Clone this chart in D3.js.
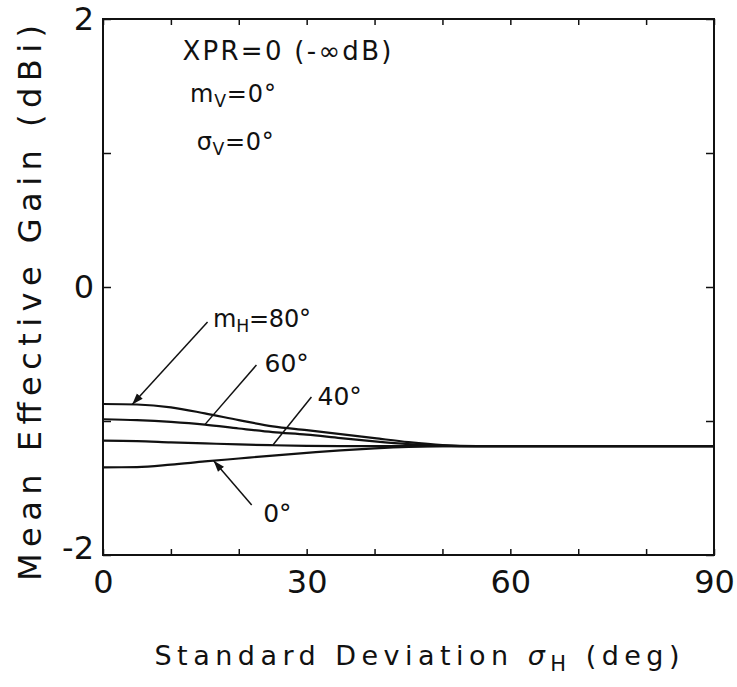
<!DOCTYPE html>
<html>
<head>
<meta charset="utf-8">
<script src="https://cdn.jsdelivr.net/npm/d3@7"></script>
<style>
  body { margin: 0; background: #fff; }
  text { font-family: "DejaVu Sans", sans-serif; fill: #111; }
</style>
</head>
<body>
<div id="container"></div>
<script>
/* DATA */
const sigmaH = [0, 5, 10, 15, 20, 25, 30, 35, 40, 45, 50, 55, 90];
const gainM80 = [-0.873, -0.877, -0.898, -0.943, -0.993, -1.040, -1.068, -1.098, -1.128, -1.158, -1.180, -1.188, -1.188];
const gainM60 = [-0.987, -0.994, -1.007, -1.027, -1.056, -1.083, -1.102, -1.128, -1.152, -1.172, -1.184, -1.188, -1.188];
const gainM40 = [-1.147, -1.150, -1.159, -1.167, -1.175, -1.181, -1.185, -1.187, -1.188, -1.188, -1.188, -1.188, -1.188];
const gainM0  = [-1.346, -1.344, -1.326, -1.302, -1.280, -1.258, -1.238, -1.219, -1.204, -1.193, -1.188, -1.188, -1.188];

const xTickValues = [0, 10, 20, 30, 40, 50, 60, 70, 80, 90];
const xTickLabels = [0, 30, 60, 90];
const yTickValues = [2, 1, 0, -1, -2];
const yTickLabels = [2, 0, -2];

/* CONSTANTS */
const width = 737,
      height = 687,
      margin = {left: 103, top: 19, right: 23, bottom: 132};
const innerW = width - margin.left - margin.right,
      innerH = height - margin.top - margin.bottom;

const svg = d3.select('#container')
              .append("svg")
              .attr("width", width)
              .attr("height", height);

const g = svg.append("g")
             .attr("transform", "translate(" + margin.left + "," + margin.top + ")");

/* SCALES */
const xScale = d3.scaleLinear().domain([0, 90]).range([0, innerW]);
const yScale = d3.scaleLinear().domain([-2, 2]).range([innerH, 0]);

/* AXES (ticks point inward) */
const fmtX = d => xTickLabels.includes(d) ? String(d) : "";
const fmtY = d => yTickLabels.includes(d) ? String(d) : "";

const bottomAxis = g.append("g")
  .attr("transform", "translate(0," + innerH + ")")
  .call(d3.axisBottom(xScale).tickValues(xTickValues).tickSizeInner(-6).tickSizeOuter(0).tickPadding(15).tickFormat(fmtX));
const topAxis = g.append("g")
  .call(d3.axisTop(xScale).tickValues(xTickValues).tickSizeInner(-6).tickSizeOuter(0).tickFormat(""));
const leftAxis = g.append("g")
  .call(d3.axisLeft(yScale).tickValues(yTickValues).tickSizeInner(-8).tickSizeOuter(0).tickPadding(9).tickFormat(fmtY));
const rightAxis = g.append("g")
  .attr("transform", "translate(" + innerW + ",0)")
  .call(d3.axisRight(yScale).tickValues(yTickValues).tickSizeInner(-8).tickSizeOuter(0).tickFormat(""));

[bottomAxis, topAxis, leftAxis, rightAxis].forEach(a => {
  a.select(".domain").remove();
  a.selectAll("line").attr("stroke", "#111").attr("stroke-width", 1.5);
  a.selectAll("text").style("font-family", "'DejaVu Sans', sans-serif")
   .style("font-size", "32px").attr("fill", "#111");
});
// the -2 label sits a little higher in the original
leftAxis.selectAll(".tick").filter(d => d === -2).select("text").attr("dy", "0.12em");

g.append("rect")
  .attr("width", innerW).attr("height", innerH)
  .attr("fill", "none").attr("stroke", "#111").attr("stroke-width", 2);

/* CURVES */
const series = [gainM80, gainM60, gainM40, gainM0];
const line = d3.line()
  .x((d, i) => xScale(sigmaH[i]))
  .y(d => yScale(d))
  .curve(d3.curveMonotoneX);

g.append("g").selectAll("path").data(series).enter().append("path")
  .attr("d", line)
  .attr("fill", "none")
  .attr("stroke", "#111")
  .attr("stroke-width", 2.2);

/* ANNOTATIONS */
function valueAt(s, sig) {
  const i = Math.min(d3.bisectRight(sigmaH, sig), sigmaH.length - 1);
  const t = (sig - sigmaH[i - 1]) / (sigmaH[i] - sigmaH[i - 1]);
  return s[i - 1] + t * (s[i] - s[i - 1]);
}

svg.append("defs").append("marker")
  .attr("id", "arrow")
  .attr("markerUnits", "userSpaceOnUse")
  .attr("viewBox", "0 -4 10 8")
  .attr("refX", 10).attr("refY", 0)
  .attr("markerWidth", 12).attr("markerHeight", 9)
  .attr("orient", "auto")
  .append("path").attr("d", "M0,-3.5L10,0L0,3.5Z").attr("fill", "#111");

const leaders = [
  {s: gainM80, at: 4.3,  from: [15.4, -0.261], arrow: true},
  {s: gainM60, at: 15.0, from: [22.6, -0.582], arrow: false},
  {s: gainM40, at: 25.0, from: [30.7, -0.821], arrow: false},
  {s: gainM0,  at: 16.3, from: [21.9, -1.627], arrow: true}
];
leaders.forEach(l => {
  g.append("line")
    .attr("x1", xScale(l.from[0])).attr("y1", yScale(l.from[1]))
    .attr("x2", xScale(l.at)).attr("y2", yScale(valueAt(l.s, l.at)))
    .attr("stroke", "#111").attr("stroke-width", 1.5)
    .attr("marker-end", l.arrow ? "url(#arrow)" : null);
});

// label helper: parts = [text, isSubscript]
function label(pos, parts, size, len) {
  const t = g.append("text")
    .attr("x", xScale(pos[0])).attr("y", yScale(pos[1]))
    .style("font-size", size + "px");
  let sub = false;
  parts.forEach(p => {
    const ts = t.append("tspan").text(p[0]);
    if (p[1] && !sub) { ts.attr("dy", size * 0.22).style("font-size", (size * 0.72) + "px"); sub = true; }
    else if (!p[1] && sub) { ts.attr("dy", -size * 0.22); sub = false; }
  });
  if (len) t.attr("textLength", len).attr("lengthAdjust", "spacing");
  return t;
}

label([11.7, 1.694], [["XPR=0 (-∞dB)", false]], 26, 209);
label([12.8, 1.380], [["m", false], ["V", true], ["=0°", false]], 24, 86);
label([13.8, 1.022], [["σ", false], ["V", true], ["=0°", false]], 24, 77);

label([16.2, -0.299], [["m", false], ["H", true], ["=80°", false]], 24, 98);
label([23.8, -0.634], [["60°", false]], 25);
label([31.6, -0.881], [["40°", false]], 25);
label([23.6, -1.754], [["0°", false]], 25);

/* AXIS TITLES */
const title = svg.append("text")
  .attr("x", 417).attr("y", 665)
  .attr("text-anchor", "middle")
  .style("font-size", "27px")
  .attr("textLength", 525).attr("lengthAdjust", "spacing");
title.append("tspan").text("Standard Deviation ");
title.append("tspan").text("σ").style("font-style", "italic");
title.append("tspan").text("H").attr("dy", 6).style("font-size", "21px");
title.append("tspan").text(" (deg)").attr("dy", -6);

svg.append("text")
  .attr("transform", "translate(41,303) rotate(-90)")
  .attr("text-anchor", "middle")
  .style("font-size", "32px")
  .attr("textLength", 556).attr("lengthAdjust", "spacing")
  .text("Mean Effective Gain (dBi)");
</script>
</body>
</html>
